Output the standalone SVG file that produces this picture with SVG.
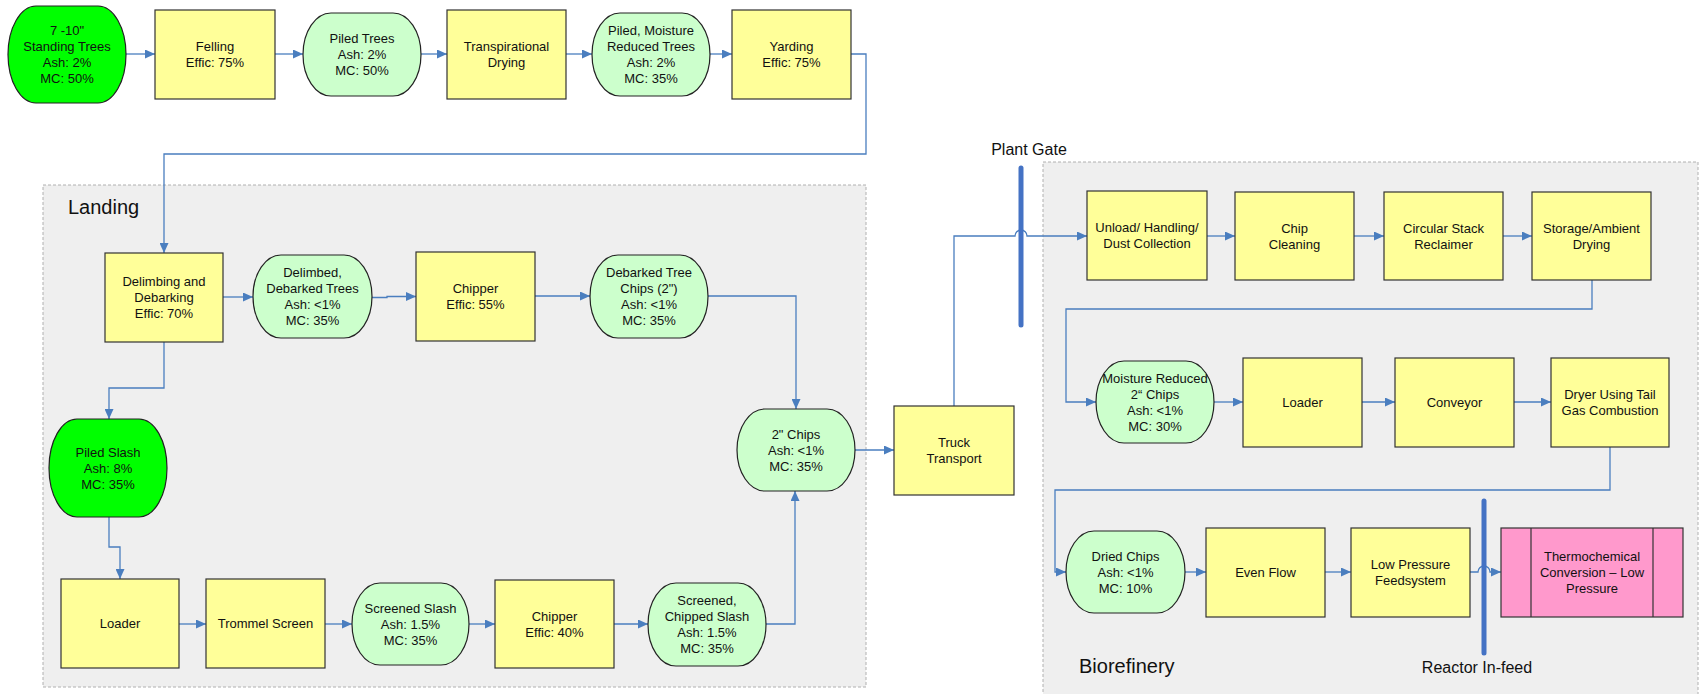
<svg xmlns="http://www.w3.org/2000/svg" width="1699" height="694" viewBox="0 0 1699 694">
<defs>
<marker id="arr" markerUnits="userSpaceOnUse" markerWidth="10" markerHeight="9" refX="10" refY="4.5" orient="auto">
<path d="M0,0 L10,4.5 L0,9 z" fill="#4a7ebf"/>
</marker>
</defs>
<style>
text{font-family:"Liberation Sans",Arial,sans-serif;fill:#111}
.t{font-size:13px;text-anchor:middle}
.lbl{font-size:20px}
.lbl16{font-size:16px;text-anchor:middle}
.box{fill:#ffff99;stroke:#333;stroke-width:1.2}
.dat{fill:#ccffcc;stroke:#222;stroke-width:1.2}
.raw{fill:#00ff00;stroke:#222;stroke-width:1.2}
.pro{fill:#ff99cc;stroke:#333;stroke-width:1.2}
.reg{fill:#efefef;stroke:#b0b0b0;stroke-width:1;stroke-dasharray:3 2}
.c{fill:none;stroke:#4a7ebf;stroke-width:1.3;marker-end:url(#arr)}
.cn{fill:none;stroke:#4a7ebf;stroke-width:1.3}
.bar{stroke:#4472c4;stroke-width:5;stroke-linecap:round}
</style>
<g id="regions">
<rect class="reg" x="43" y="185" width="823" height="502"/>
<rect class="reg" x="1043" y="162" width="655" height="545"/>
<text class="lbl" x="68" y="214">Landing</text>
<text class="lbl" x="1079" y="673">Biorefinery</text>
</g>
<g id="connectors">
<path class="c" d="M126,54 H155"/>
<path class="c" d="M275,54 H303"/>
<path class="c" d="M421,54 H447"/>
<path class="c" d="M566,54 H592"/>
<path class="c" d="M710,54 H732"/>
<path class="c" d="M851,54 H866 V154 H164 V253"/>
<path class="c" d="M223,297 H253"/>
<path class="c" d="M372,297.5 H387 V296.5 H416"/>
<path class="c" d="M535,296 H590"/>
<path class="c" d="M708,296 H796 V409"/>
<path class="c" d="M164,342 V388 H109 V419"/>
<path class="c" d="M109,517 V547 H120 V579"/>
<path class="c" d="M179,624 H206"/>
<path class="c" d="M325,624 H352"/>
<path class="c" d="M469,624 H495"/>
<path class="c" d="M614,624 H648"/>
<path class="c" d="M766,624 H795 V491"/>
<path class="c" d="M855,450 H894"/>
<path class="c" d="M954,406 V236 H1015 A6,6 0 0 1 1027,236 H1087"/>
<path class="c" d="M1207,236 H1235"/>
<path class="c" d="M1354,236 H1384"/>
<path class="c" d="M1503,236 H1532"/>
<path class="c" d="M1592,280 V309 H1066 V402 H1096"/>
<path class="c" d="M1214,402 H1243"/>
<path class="c" d="M1362,402 H1395"/>
<path class="c" d="M1514,402 H1551"/>
<path class="c" d="M1610,447 V490 H1055 V572 H1066"/>
<path class="c" d="M1185,572 H1206"/>
<path class="c" d="M1325,572 H1351"/>
<path class="c" d="M1470,572 H1478 A6,6 0 0 1 1490,572 H1501"/>
</g>
<g id="gates">
<line class="bar" x1="1021" y1="168" x2="1021" y2="325"/>
<text class="lbl16" x="1029" y="155">Plant Gate</text>
<line class="bar" x1="1484" y1="501" x2="1484" y2="653"/>
<text class="lbl16" x="1477" y="673">Reactor In-feed</text>
</g>
<g id="n-standing"><rect class="raw" x="8" y="6" width="118" height="97" rx="28" ry="48.5"/>
<text class="t" x="67" y="35">7 -10"</text><text class="t" x="67" y="51">Standing Trees</text><text class="t" x="67" y="67">Ash: 2%</text><text class="t" x="67" y="83">MC: 50%</text></g>
<g id="n-felling"><rect class="box" x="155" y="10" width="120" height="89"/>
<text class="t" x="215" y="51">Felling</text><text class="t" x="215" y="67">Effic: 75%</text></g>
<g id="n-piledtrees"><rect class="dat" x="303" y="13" width="118" height="83" rx="28" ry="41.5"/>
<text class="t" x="362" y="43">Piled Trees</text><text class="t" x="362" y="59">Ash: 2%</text><text class="t" x="362" y="75">MC: 50%</text></g>
<g id="n-transp"><rect class="box" x="447" y="10" width="119" height="89"/>
<text class="t" x="506.5" y="51">Transpirational</text><text class="t" x="506.5" y="67">Drying</text></g>
<g id="n-piledmoist"><rect class="dat" x="592" y="13" width="118" height="83" rx="28" ry="41.5"/>
<text class="t" x="651" y="35">Piled, Moisture</text><text class="t" x="651" y="51">Reduced Trees</text><text class="t" x="651" y="67">Ash: 2%</text><text class="t" x="651" y="83">MC: 35%</text></g>
<g id="n-yarding"><rect class="box" x="732" y="10" width="119" height="89"/>
<text class="t" x="791.5" y="51">Yarding</text><text class="t" x="791.5" y="67">Effic: 75%</text></g>
<g id="n-delimbing"><rect class="box" x="105" y="253" width="118" height="89"/>
<text class="t" x="164" y="286">Delimbing and</text><text class="t" x="164" y="302">Debarking</text><text class="t" x="164" y="318">Effic: 70%</text></g>
<g id="n-delimbed"><rect class="dat" x="253" y="255" width="119" height="83" rx="28" ry="41.5"/>
<text class="t" x="312.5" y="277">Delimbed,</text><text class="t" x="312.5" y="293">Debarked Trees</text><text class="t" x="312.5" y="309">Ash: &lt;1%</text><text class="t" x="312.5" y="325">MC: 35%</text></g>
<g id="n-chipper55"><rect class="box" x="416" y="252" width="119" height="89"/>
<text class="t" x="475.5" y="293">Chipper</text><text class="t" x="475.5" y="309">Effic: 55%</text></g>
<g id="n-debchips"><rect class="dat" x="590" y="255" width="118" height="83" rx="28" ry="41.5"/>
<text class="t" x="649" y="277">Debarked Tree</text><text class="t" x="649" y="293">Chips (2")</text><text class="t" x="649" y="309">Ash: &lt;1%</text><text class="t" x="649" y="325">MC: 35%</text></g>
<g id="n-chips2"><rect class="dat" x="737" y="409" width="118" height="82" rx="28" ry="41"/>
<text class="t" x="796" y="438.5">2" Chips</text><text class="t" x="796" y="454.5">Ash: &lt;1%</text><text class="t" x="796" y="470.5">MC: 35%</text></g>
<g id="n-piledslash"><rect class="raw" x="49" y="419" width="118" height="98" rx="28" ry="49"/>
<text class="t" x="108" y="456.5">Piled Slash</text><text class="t" x="108" y="472.5">Ash: 8%</text><text class="t" x="108" y="488.5">MC: 35%</text></g>
<g id="n-loader1"><rect class="box" x="61" y="579" width="118" height="89"/>
<text class="t" x="120" y="628">Loader</text></g>
<g id="n-trommel"><rect class="box" x="206" y="579" width="119" height="89"/>
<text class="t" x="265.5" y="628">Trommel Screen</text></g>
<g id="n-screened"><rect class="dat" x="352" y="583" width="117" height="82" rx="28" ry="41"/>
<text class="t" x="410.5" y="612.5">Screened Slash</text><text class="t" x="410.5" y="628.5">Ash: 1.5%</text><text class="t" x="410.5" y="644.5">MC: 35%</text></g>
<g id="n-chipper40"><rect class="box" x="495" y="580" width="119" height="88"/>
<text class="t" x="554.5" y="620.5">Chipper</text><text class="t" x="554.5" y="636.5">Effic: 40%</text></g>
<g id="n-scrchipped"><rect class="dat" x="648" y="583" width="118" height="83" rx="28" ry="41.5"/>
<text class="t" x="707" y="605">Screened,</text><text class="t" x="707" y="621">Chipped Slash</text><text class="t" x="707" y="637">Ash: 1.5%</text><text class="t" x="707" y="653">MC: 35%</text></g>
<g id="n-truck"><rect class="box" x="894" y="406" width="120" height="89"/>
<text class="t" x="954" y="447">Truck</text><text class="t" x="954" y="463">Transport</text></g>
<g id="n-unload"><rect class="box" x="1087" y="191" width="120" height="89"/>
<text class="t" x="1147" y="232">Unload/ Handling/</text><text class="t" x="1147" y="248">Dust Collection</text></g>
<g id="n-chipclean"><rect class="box" x="1235" y="192" width="119" height="88"/>
<text class="t" x="1294.5" y="232.5">Chip</text><text class="t" x="1294.5" y="248.5">Cleaning</text></g>
<g id="n-circular"><rect class="box" x="1384" y="192" width="119" height="88"/>
<text class="t" x="1443.5" y="232.5">Circular Stack</text><text class="t" x="1443.5" y="248.5">Reclaimer</text></g>
<g id="n-storage"><rect class="box" x="1532" y="192" width="119" height="88"/>
<text class="t" x="1591.5" y="232.5">Storage/Ambient</text><text class="t" x="1591.5" y="248.5">Drying</text></g>
<g id="n-moist"><rect class="dat" x="1096" y="361" width="118" height="82" rx="28" ry="41"/>
<text class="t" x="1155" y="382.5">Moisture Reduced</text><text class="t" x="1155" y="398.5">2“ Chips</text><text class="t" x="1155" y="414.5">Ash: &lt;1%</text><text class="t" x="1155" y="430.5">MC: 30%</text></g>
<g id="n-loader2"><rect class="box" x="1243" y="358" width="119" height="89"/>
<text class="t" x="1302.5" y="407">Loader</text></g>
<g id="n-conveyor"><rect class="box" x="1395" y="358" width="119" height="89"/>
<text class="t" x="1454.5" y="407">Conveyor</text></g>
<g id="n-dryer"><rect class="box" x="1551" y="358" width="118" height="89"/>
<text class="t" x="1610" y="399">Dryer Using Tail</text><text class="t" x="1610" y="415">Gas Combustion</text></g>
<g id="n-dried"><rect class="dat" x="1066" y="531" width="119" height="82" rx="28" ry="41"/>
<text class="t" x="1125.5" y="560.5">Dried Chips</text><text class="t" x="1125.5" y="576.5">Ash: &lt;1%</text><text class="t" x="1125.5" y="592.5">MC: 10%</text></g>
<g id="n-evenflow"><rect class="box" x="1206" y="528" width="119" height="89"/>
<text class="t" x="1265.5" y="577">Even Flow</text></g>
<g id="n-lowpress"><rect class="box" x="1351" y="528" width="119" height="89"/>
<text class="t" x="1410.5" y="569">Low Pressure</text><text class="t" x="1410.5" y="585">Feedsystem</text></g>
<g id="n-thermo"><rect class="pro" x="1501" y="528" width="182" height="89"/>
<line x1="1531" y1="528" x2="1531" y2="617" stroke="#333" stroke-width="1.2"/>
<line x1="1653" y1="528" x2="1653" y2="617" stroke="#333" stroke-width="1.2"/>
<text class="t" x="1592" y="561">Thermochemical</text><text class="t" x="1592" y="577">Conversion – Low</text><text class="t" x="1592" y="593">Pressure</text></g>
</svg>
